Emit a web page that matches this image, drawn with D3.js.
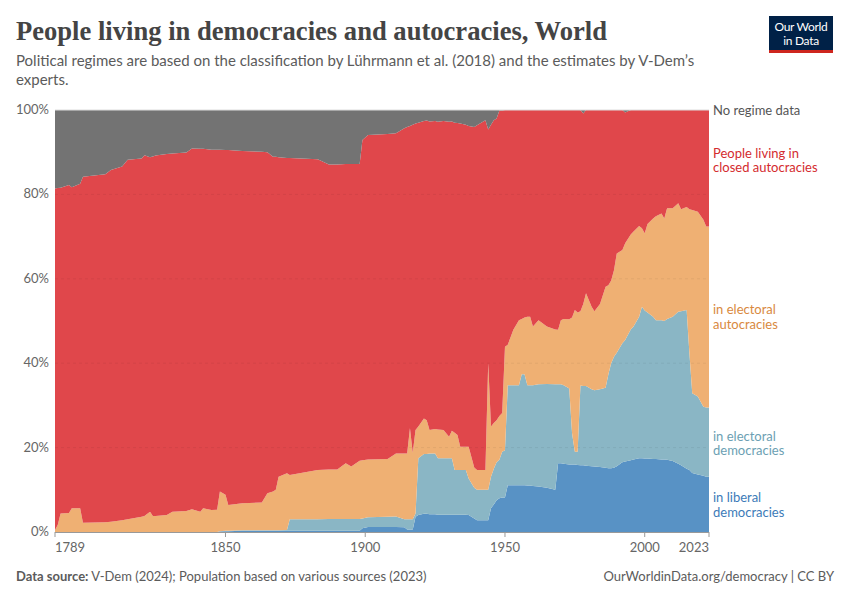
<!DOCTYPE html>
<html><head><meta charset="utf-8">
<script src="https://cdn.jsdelivr.net/npm/d3@7"></script>
<style>body{margin:0;background:#fff;} text{font-family:Lato,"Open Sans",sans-serif;} text.title{font-family:"Liberation Serif","DejaVu Serif",serif;}</style>
</head><body>
<svg id="c" width="850" height="600"></svg>
<script>
const years = [1789,1790,1791,1794,1795,1798,1799,1807,1809,1813,1815,1820,1821,1823,1824,1825,1829,1831,1836,1838,1841,1842,1845,1847,1848,1850,1851,1856,1863,1865,1867,1868,1869,1872,1873,1883,1887,1890,1893,1895,1898,1899,1901,1908,1911,1914,1915,1916,1917,1918,1919,1921,1922,1923,1925,1926,1928,1930,1931,1932,1933,1934,1936,1937,1939,1940,1943,1944,1945,1946,1947,1948,1949,1950,1951,1953,1955,1956,1957,1958,1959,1960,1962,1965,1968,1969,1970,1971,1973,1974,1975,1976,1977,1978,1979,1981,1982,1984,1986,1987,1988,1989,1990,1992,1993,1995,1996,1998,1999,2000,2001,2003,2004,2006,2007,2008,2010,2012,2013,2015,2016,2017,2019,2021,2022,2023];
const liberal = [0,0,0,0,0,0,0,0,0,0,0,0,0,0,0,0,0,0,0,0,0,0,0,0,0.1,0.2,0.2,0.3,0.3,0.3,0.3,0.3,0.3,0.3,0.3,0.3,0.3,0.3,0.3,0.3,0.3,0.9,1.2,1.2,1.2,1.1,0.6,0.6,0.6,3.6,4.0,4.3,4.3,4.2,4.2,4.1,4.1,4.1,4.1,4.1,4.1,4.1,4.1,4.0,3.2,2.8,2.8,2.8,5.6,6.5,7.5,8.0,8.2,8.2,11.1,11.1,11.1,11.1,11.1,11.0,11.0,10.9,10.8,10.5,10.0,16.3,16.3,16.2,16.0,16.0,16.0,15.9,15.8,15.8,15.7,15.6,15.5,15.4,15.2,15.1,15.1,15.2,15.6,16.5,16.7,17.0,17.2,17.5,17.5,17.4,17.4,17.3,17.3,17.2,17.2,17.1,16.8,16.2,15.8,15.0,14.7,14.0,13.6,13.3,13.1,13.1];
const electoralDem = [0,0,0,0,0,0,0,0,0,0,0,0,0,0,0,0,0,0,0,0,0,0,0,0,0.1,0.1,0.1,0.1,0.1,0.1,0.1,0.1,0.1,0.2,2.7,2.7,2.8,2.8,2.8,2.8,2.8,2.3,2.3,2.4,2.5,1.9,2.4,2.4,2.4,0.8,13.5,14.2,14.2,14.4,14.4,13.4,13.4,13.4,13.4,10.6,10.6,10.6,10.6,8.7,7.3,7.2,7.2,7.2,7.5,8.5,9.0,9.1,10.8,11.2,23.7,23.7,23.7,26.3,26.3,23.8,23.8,23.9,24.2,24.6,25.0,18.7,18.7,18.6,18.0,7.4,3.0,3.1,18.9,18.8,18.9,18.2,18.1,18.4,19.0,22.3,24.9,26.3,26.9,28.2,28.8,31.0,31.5,33.5,35.9,35.1,34.6,33.7,32.9,33.0,32.8,33.4,34.2,36.0,36.5,37.6,27.6,18.9,18.5,16.4,16.4,16.4];
const electoralAut = [0.5,1.7,4.4,4.5,5.6,5.6,2.2,2.3,2.4,2.8,3.0,3.6,3.8,4.8,3.8,3.8,4.0,4.8,5.0,5.4,4.8,5.6,5.2,5.3,9.4,8.5,6.1,6.4,6.6,8.8,9.2,9.6,12.7,13.4,10.5,11.7,11.7,11.7,13.2,12.4,13.8,13.8,13.7,13.7,14.9,15.6,15.6,21.6,15.8,19.8,7.5,8.4,8.0,5.6,5.8,6.8,6.7,5.1,6.5,8.8,8.3,5.5,5.5,7.5,4.8,4.7,4.7,30.0,11.9,10.8,10.0,10.4,9.2,24.5,9.6,13.1,15.4,13.1,13.4,16.2,16.2,13.9,15.2,13.6,13.0,12.9,15.2,15.7,16.4,27.4,33.6,33.0,17.6,19.4,22.0,19.6,18.7,20.2,23.9,21.1,19.6,20.5,23.5,22.1,22.9,22.5,22.5,21.5,18.6,18.3,21.0,23.3,24.6,25.3,24.3,26.2,25.7,25.7,24.2,24.4,34.2,43.4,43.8,44.3,42.9,42.9];
const closedAut = [80.9,79.8,77.2,77.7,76.1,76.9,82.0,82.5,83.4,83.8,85.2,84.9,85.5,84.0,85.2,85.4,85.6,84.9,84.9,85.5,86.0,85.2,85.4,85.3,81.0,81.7,84.1,83.5,83.1,80.8,79.3,78.9,75.7,74.7,75.1,73.6,72.3,72.3,70.9,71.7,70.3,75.9,76.9,77.0,75.9,77.1,77.4,71.6,77.7,72.6,72.0,70.5,71.0,73.1,73.0,72.9,73.2,74.6,73.3,73.5,73.9,76.6,76.3,76.0,80.7,81.7,82.9,55.4,71.5,71.8,71.5,72.4,71.7,56.1,55.6,52.1,49.8,49.5,49.2,49.0,49.0,51.3,49.8,51.3,52.0,52.1,49.8,49.5,49.6,49.2,47.4,48.0,47.7,45.2,43.4,46.6,47.7,46.0,41.9,41.5,40.4,38.0,34.0,33.2,31.0,29.5,28.8,27.5,28.0,29.2,27.0,25.7,25.2,24.5,25.7,23.3,23.3,22.1,23.5,23.0,23.5,23.7,24.1,26.0,27.6,27.6];
const noData = [18.6,18.5,18.4,17.8,18.3,17.5,15.8,15.2,14.2,13.4,11.8,11.5,10.7,11.2,11.0,10.8,10.4,10.3,10.1,9.1,9.2,9.2,9.4,9.4,9.4,9.5,9.5,9.7,9.9,10.0,11.1,11.1,11.2,11.4,11.4,11.7,12.9,12.9,12.8,12.8,12.8,7.1,5.9,5.7,5.5,4.3,4.0,3.8,3.5,3.2,3.0,2.6,2.5,2.7,2.6,2.8,2.6,2.8,2.7,3.0,3.1,3.2,3.5,3.8,4.0,3.6,2.4,4.6,3.5,2.4,2.0,0.1,0.1,0,0,0,0,0,0,0,0,0,0,0,0,0,0,0,0,0,0,0,0,0.8,0,0,0,0,0,0,0,0,0,0,0.6,0,0,0,0,0,0,0,0,0,0,0,0,0,0,0,0,0,0,0,0,0];
const seriesKeys = ["liberal","electoralDem","electoralAut","closedAut","noData"];
const seriesLabels = [["in liberal","democracies"],["in electoral","democracies"],["in electoral","autocracies"],["People living in","closed autocracies"],["No regime data"]];
const seriesColors = ["#5892c5","#8ab6c5","#efb073","#e0474b","#737373"];
const labelColors = ["#3c7bb8","#6c9fb3","#d9893e","#d42b2e","#555555"];
const yTicks = [0,20,40,60,80,100];
const xTicks = [1789,1850,1900,1950,2000,2023];

const rows = years.map((y,i)=>({year:y, liberal:liberal[i], electoralDem:electoralDem[i], electoralAut:electoralAut[i], closedAut:closedAut[i], noData:noData[i]}));
const svg = d3.select("#c");
const m = {l:55, r:709, t:110, b:532};
const x = d3.scaleLinear().domain([1789,2023]).range([m.l,m.r]);
const y = d3.scaleLinear().domain([0,100]).range([m.b,m.t]);
const stack = d3.stack().keys(seriesKeys)(rows);
const area = d3.area().x(d=>x(d.data.year)).y0(d=>y(d[0])).y1(d=>y(d[1]));

svg.append("g").selectAll("path").data(stack).join("path")
  .attr("d",area).attr("fill",(d,i)=>seriesColors[i]);

// gridlines
svg.append("g").selectAll("line").data(yTicks.filter(t=>t>0)).join("line")
  .attr("x1",m.l).attr("x2",m.r).attr("y1",d=>y(d)).attr("y2",d=>y(d))
  .attr("stroke",d=>d===100?"#dddddd":"rgba(0,0,0,0.06)").attr("stroke-dasharray",d=>d===100?null:"3,3");

// y labels
svg.append("g").selectAll("text").data(yTicks).join("text")
  .attr("x",49).attr("y",d=>y(d)).attr("dy","0.3em").attr("text-anchor","end")
  .attr("font-size",13).attr("fill","#666").text(d=>d+"%");

// x axis
svg.append("line").attr("x1",m.l).attr("x2",m.r).attr("y1",m.b+0.5).attr("y2",m.b+0.5).attr("stroke","#999");
const xa = svg.append("g");
xa.selectAll("line").data(xTicks).join("line")
  .attr("x1",d=>x(d)).attr("x2",d=>x(d)).attr("y1",m.b).attr("y2",m.b+5).attr("stroke","#999");
xa.selectAll("text").data(xTicks).join("text")
  .attr("x",d=>x(d)).attr("y",m.b+20)
  .attr("text-anchor",(d,i)=>i===0?"start":(i===xTicks.length-1?"end":"middle"))
  .attr("font-size",13).attr("fill","#666").text(d=>d);

// right labels
const labelY = [[498,513],[437,451],[310,325],[154,168],[111]];
seriesLabels.forEach((lines,i)=>{
  lines.forEach((t,j)=>{
    svg.append("text").attr("x",713).attr("y",labelY[i][j]).attr("dy","0.32em")
      .attr("font-size",13).attr("fill",labelColors[i]).text(t);
  });
});

// titles
svg.append("text").attr("class","title").attr("x",16).attr("y",40)
  .attr("font-size",27).attr("font-weight","bold").attr("fill","#444").attr("textLength",591).attr("lengthAdjust","spacingAndGlyphs")
  .text("People living in democracies and autocracies, World");
svg.append("text").attr("x",16).attr("y",66).attr("font-size",15).attr("fill","#5b5b5b")
  .text("Political regimes are based on the classification by Lührmann et al. (2018) and the estimates by V-Dem’s");
svg.append("text").attr("x",16).attr("y",85).attr("font-size",15).attr("fill","#5b5b5b").text("experts.");

// logo
svg.append("rect").attr("x",769).attr("y",16).attr("width",64).attr("height",35).attr("fill","#002147");
svg.append("rect").attr("x",769).attr("y",50).attr("width",64).attr("height",3).attr("fill","#ce261e");
svg.append("text").attr("x",801).attr("y",31).attr("text-anchor","middle").attr("font-size",12).attr("fill","#fff").attr("letter-spacing","-0.3").text("Our World");
svg.append("text").attr("x",801).attr("y",45).attr("text-anchor","middle").attr("font-size",12).attr("fill","#fff").attr("letter-spacing","-0.3").text("in Data");

// footer
const f = svg.append("text").attr("x",16).attr("y",581).attr("font-size",13).attr("fill","#5b5b5b");
f.append("tspan").attr("font-weight","bold").text("Data source:");
f.append("tspan").text(" V-Dem (2024); Population based on various sources (2023)");
svg.append("text").attr("x",834).attr("y",581).attr("text-anchor","end").attr("font-size",13).attr("fill","#5b5b5b")
  .text("OurWorldinData.org/democracy | CC BY");
</script>
</body></html>
